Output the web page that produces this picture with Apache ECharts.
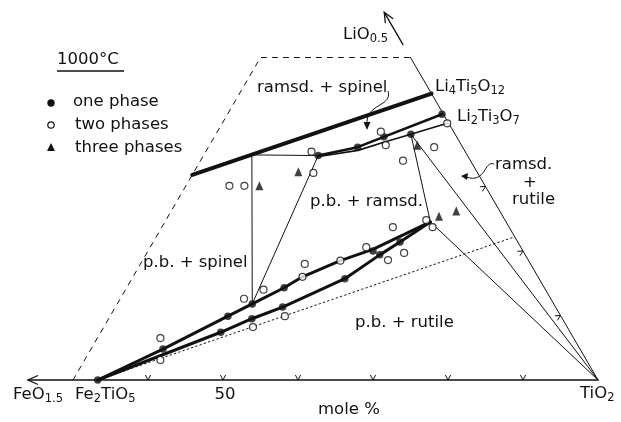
<!DOCTYPE html>
<html><head><meta charset="utf-8">
<script src="https://cdn.jsdelivr.net/npm/echarts@6/dist/echarts.min.js"></script>
<style>html,body{margin:0;padding:0;background:#fff}#c{width:621px;height:422px}</style>
</head><body><div id="c"></div>
<script>
// Compositions as [TiO2 mol%, LiO0.5 mol%]; FeO1.5 is the remainder.
const onePhase = [[33.3,0],[39.6,4.8],[45.7,9.9],[48.0,11.8],[51.0,14.3],[46.0,7.4],[49.1,9.5],[52.3,11.3],[58.4,15.7],[60.0,20.0],[61.2,19.4],[62.9,21.4],[45.3,34.8],[49.9,36.1],[52.6,37.7],[56.0,38.1],[58.6,41.2]];
const twoPhases = [[38.4,6.5],[40.1,3.1],[46.5,12.6],[48.4,14.0],[49.9,8.2],[52.6,16.0],[51.9,18.0],[53.3,9.9],[56.4,18.5],[58.8,20.6],[62.7,18.6],[64.3,19.7],[60.8,23.7],[64.7,24.8],[66.1,23.7],[35.8,30.1],[37.8,30.1],[44.1,35.4],[46.0,32.1],[51.8,38.5],[53.5,36.4],[60.1,36.1],[57.0,34.0],[60.0,39.8]];
const threePhases = [[39.8,30.1],[43.9,32.3],[57.7,36.4],[66.1,25.4],[68.0,26.2]];
const pbUpper = [[33.3,0],[39.6,4.8],[45.7,9.9],[48.0,11.8],[51.0,14.3],[52.6,16.0],[56.4,18.5],[59.9,20.3],[65.4,24.5]];
const pbLower = [[33.3,0],[46.0,7.4],[49.1,9.5],[52.3,11.3],[58.4,15.7],[61.2,19.4],[62.9,21.4],[65.4,24.5]];
const ramsdUpper = [[45.3,34.8],[49.9,36.1],[52.6,37.7],[58.6,41.2]];
const ramsdLower = [[45.3,34.6],[50.2,35.6],[53.1,36.9],[56.0,38.1],[60.0,39.8]];
const spinelBoundary = [[30,31.8],[55.6,44.4]];
const tieLines = [
  [[36.4,34.9],[48.0,11.8]],
  [[36.4,34.9],[45.3,34.8]],
  [[45.3,34.8],[48.0,11.8]],
  [[56.0,38.1],[65.4,24.5]],
  [[56.0,38.1],[100,0]],
  [[65.4,24.5],[100,0]]
];
const dottedLine = [[33.3,0],[77.8,22.2]];
const limitDashed = [[30,0],[30,50],[50,50]];
const rightEdge = [[100,0],[50,50]];
const baseAxis = [[24,0],[100,0]];
const liArrow = [[48,52],[43,57]];
const baseTicks = [40,50,60,70,80,90];
const edgeTicks = [10,20,30];

const INK = '#111';
const toXY = p => [p[0] + p[1] / 2, p[1]];

function lineSeries(pts, width, type, z) {
  return {type:'line', data: pts.map(toXY), symbol:'none', silent:true, animation:false, z: z || 2,
    lineStyle:{color:INK, width:width, type:type || 'solid', cap:'round', join:'round'}};
}

const series = [];
series.push(lineSeries(baseAxis, 1.3));
series.push(lineSeries(rightEdge, 1));
series.push(lineSeries(liArrow, 1.3));
series.push(lineSeries(limitDashed, 1, [5,6]));
series.push(lineSeries(dottedLine, 1, [1.5,3]));
series.push(lineSeries(spinelBoundary, 4));
tieLines.forEach(t => series.push(lineSeries(t, 1)));
series.push(lineSeries(pbUpper, 3));
series.push(lineSeries(pbLower, 3));
series.push(lineSeries(ramsdUpper, 2.6));
series.push(lineSeries(ramsdLower, 1.6));

function chev(p, u, len, half) {
  const v = [-u[1], u[0]];
  return [[p[0]+u[0]*len+v[0]*half, p[1]+u[1]*len+v[1]*half], p,
          [p[0]+u[0]*len-v[0]*half, p[1]+u[1]*len-v[1]*half]];
}
function unit(a, b) { const dx=b[0]-a[0], dy=b[1]-a[1], L=Math.hypot(dx,dy); return [dx/L, dy/L]; }

const tickData = baseTicks.map(t => toXY([t,0]).concat([0]))
  .concat(edgeTicks.map(l => toXY([100-l,l]).concat([1])));
series.push({type:'custom', coordinateSystem:'cartesian2d', silent:true, animation:false, z:3,
  data: tickData,
  renderItem: function(params, api) {
    const p = api.coord([api.value(0), api.value(1)]);
    let u;
    if (api.value(2) === 0) {
      u = [0,-1];
    } else {
      const a = api.coord(toXY([100,0])), b = api.coord(toXY([50,50]));
      const d = unit(a,b); u = [d[1], -d[0]];
      if (u[0] > 0) u = [-u[0], -u[1]];
    }
    return {type:'polyline', shape:{points: chev(p,u,5,2.6)}, style:{stroke:INK, lineWidth:1, fill:null}};
  }
});
const arrowData = [toXY(liArrow[1]).concat(toXY(liArrow[0])), toXY(baseAxis[0]).concat(toXY([30,0]))];
series.push({type:'custom', coordinateSystem:'cartesian2d', silent:true, animation:false, z:3,
  data: arrowData,
  renderItem: function(params, api) {
    const p = api.coord([api.value(0), api.value(1)]);
    const q = api.coord([api.value(2), api.value(3)]);
    return {type:'polyline', shape:{points: chev(p, unit(p,q), 10, 4.5)}, style:{stroke:INK, lineWidth:1.3, fill:null}};
  }
});

series.push({type:'scatter', data: onePhase.map(toXY), symbol:'circle', symbolSize:7.5, z:5, animation:false,
  itemStyle:{color:INK}});
series.push({type:'scatter', data: twoPhases.map(toXY), symbol:'circle', symbolSize:7, z:5, animation:false,
  itemStyle:{color:'#fff', borderColor:INK, borderWidth:1.2}});
series.push({type:'scatter', data: threePhases.map(toXY), symbol:'triangle', symbolSize:[8,9], z:5, animation:false,
  itemStyle:{color:INK}});

const FONT = '"DejaVu Sans", sans-serif';
const rich = {
  m:{fontSize:16.5, fontFamily:FONT, color:INK, lineHeight:20},
  s:{fontSize:11.5, fontFamily:FONT, color:INK, lineHeight:11, verticalAlign:'bottom'}
};
function txt(x, y, text, align) {
  return {type:'text', x:x, y:y, silent:true, z:10,
    style:{text:text, rich:rich, font:'16.5px ' + FONT, fill:INK, textAlign: align || 'left', textVerticalAlign:'middle'}};
}

const graphic = [
  txt(57, 60, '{m|1000°C}'),
  {type:'line', shape:{x1:57,y1:71,x2:124,y2:71}, style:{stroke:INK, lineWidth:1.5}},
  {type:'circle', shape:{cx:51, cy:103, r:3.7}, style:{fill:INK}},
  {type:'circle', shape:{cx:51, cy:125, r:3.2}, style:{fill:'#fff', stroke:INK, lineWidth:1.2}},
  {type:'polygon', shape:{points:[[47,151],[55,151],[51,143]]}, style:{fill:INK}},
  txt(73, 102, '{m|one phase}'),
  txt(75, 125, '{m|two phases}'),
  txt(75, 148, '{m|three phases}'),
  txt(257, 88, '{m|ramsd. + spinel}'),
  txt(435, 87, '{m|Li}{s|4}{m|Ti}{s|5}{m|O}{s|12}'),
  txt(457, 117, '{m|Li}{s|2}{m|Ti}{s|3}{m|O}{s|7}'),
  txt(343, 35, '{m|LiO}{s|0.5}'),
  txt(495, 165, '{m|ramsd.}'),
  txt(530, 183, '{m|+}', 'center'),
  txt(512, 200, '{m|rutile}'),
  txt(310, 202, '{m|p.b. + ramsd.}'),
  txt(143, 263, '{m|p.b. + spinel}'),
  txt(355, 323, '{m|p.b. + rutile}'),
  txt(13, 395, '{m|FeO}{s|1.5}'),
  txt(75, 395, '{m|Fe}{s|2}{m|TiO}{s|5}'),
  txt(225, 395, '{m|50}', 'center'),
  txt(580, 394, '{m|TiO}{s|2}'),
  txt(318, 410, '{m|mole %}'),
  {type:'bezierCurve', shape:{x1:388,y1:91,cpx1:393,cpy1:107,cpx2:365,cpy2:103,x2:367,y2:125}, style:{stroke:INK, lineWidth:1, fill:null}},
  {type:'polygon', shape:{points:[[363.5,122],[370.5,122],[367,130]]}, style:{fill:INK}},
  {type:'bezierCurve', shape:{x1:494,y1:164,cpx1:484,cpy1:160,cpx2:486,cpy2:184,x2:466,y2:177}, style:{stroke:INK, lineWidth:1, fill:null}},
  {type:'polygon', shape:{points:[[461,176],[468,173],[467,180]]}, style:{fill:INK}}
];

const chart = echarts.init(document.getElementById('c'), null, {renderer:'canvas'});
chart.setOption({
  animation:false,
  backgroundColor:'#fff',
  grid:{left:13, top:5.9, width:600, height:412.8, containLabel:false},
  xAxis:{type:'value', min:22, max:102, show:false},
  yAxis:{type:'value', min:-6, max:58, show:false},
  series: series,
  graphic: graphic
});
</script></body></html>
